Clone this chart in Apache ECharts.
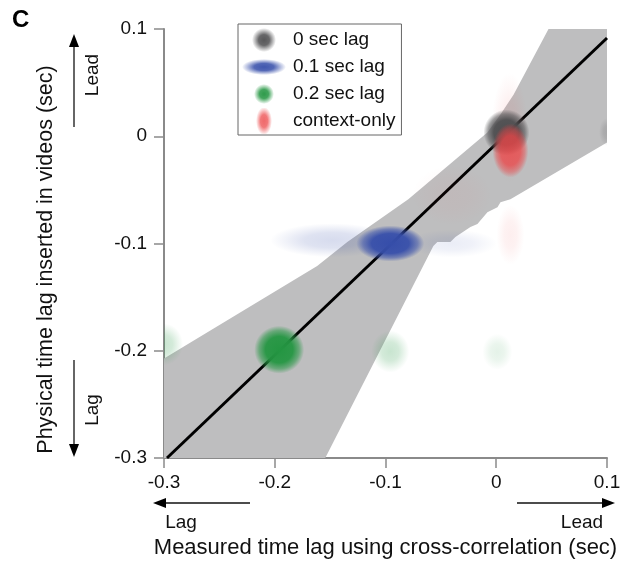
<!DOCTYPE html>
<html>
<head>
<meta charset="utf-8">
<script src="https://cdn.jsdelivr.net/npm/echarts@6/dist/echarts.min.js"></script>
<style>
html,body{margin:0;padding:0;background:#fff;}
#chart{width:626px;height:564px;}
</style>
</head>
<body>
<div id="chart"></div>
<script>
// ---------------- data ----------------
const xTickLabels = ['-0.3', '-0.2', '-0.1', '0', '0.1'];
const yTickLabels = ['-0.3', '-0.2', '-0.1', '0', '0.1'];
const legendNames = ['0 sec lag', '0.1 sec lag', '0.2 sec lag', 'context-only'];

// regression line end points
const lineX = [-0.2973, 0.1];
const lineY = [-0.3, 0.0916];

// confidence band outline (x, y vertices)
const bandX = [-0.3, -0.3, -0.1617, -0.1345, -0.0794, -0.0080, 0.0038, 0.0156, 0.0472, 0.1, 0.1,
  0.0128, 0.0038, 0.0011, -0.0080, -0.0170, -0.0233, -0.0369, -0.0414, -0.0532, -0.0568, -0.1544];
const bandY = [-0.3, -0.2072, -0.1209, -0.0986, -0.0587, 0.0035, 0.0202, 0.0387, 0.1, 0.1, -0.0058,
  -0.0587, -0.0615, -0.0661, -0.0708, -0.0819, -0.0847, -0.0940, -0.0986, -0.0986, -0.1023, -0.3];

// cluster centres (measured lag, inserted lag)
const lag0Core = [[0.0092, 0.0035]];
const lag0Faint = [[0.1, 0.004]];
const lag1Core = [[-0.0957, -0.100]];
const lag1FaintLeft = [[-0.148, -0.097]];
const lag1FaintRight = [[-0.040, -0.100]];
const lag2Core = [[-0.196, -0.199]];
const lag2Faint = [[-0.300, -0.194], [-0.0957, -0.2007]];
const lag2FaintFar = [[0.001, -0.201]];
const ctxCore = [[0.0128, -0.0133]];
const ctxFaintUp = [[0.012, 0.008]];
const ctxFaintLow = [[0.0128, -0.092]];
const ctxFaintBand = [[-0.040, -0.055]];

// ---------------- styles ----------------
const FONT = '"Liberation Sans", Arial, Helvetica, sans-serif';
const C_GRAY = [78, 78, 80], C_BLUE = [54, 78, 170], C_GREEN = [36, 150, 66], C_RED = [236, 68, 70];

function grad(rgb, a, hard) {
  const c = (al) => 'rgba(' + rgb[0] + ',' + rgb[1] + ',' + rgb[2] + ',' + al + ')';
  const stops = hard ? [
    {offset: 0, color: c(a)},
    {offset: 0.55, color: c(a * 0.95)},
    {offset: 0.8, color: c(a * 0.55)},
    {offset: 1, color: c(0)}
  ] : [
    {offset: 0, color: c(a)},
    {offset: 0.45, color: c(a * 0.8)},
    {offset: 0.75, color: c(a * 0.35)},
    {offset: 1, color: c(0)}
  ];
  return new echarts.graphic.RadialGradient(0.5, 0.5, 0.5, stops);
}

function blobSeries(name, data, rgb, alpha, rx, ry, z, hard) {
  return {
    type: 'custom', name: name, data: data, clip: true, z: z, silent: true,
    itemStyle: {color: 'rgb(' + rgb.join(',') + ')'},
    renderItem: function (params, api) {
      const p = api.coord([api.value(0), api.value(1)]);
      return {
        type: 'circle', x: p[0], y: p[1], scaleX: rx / 50, scaleY: ry / 50,
        shape: {cx: 0, cy: 0, r: 50},
        style: {fill: grad(rgb, alpha, hard)}
      };
    }
  };
}

function blobImg(w, h, rx, ry, rgb, a) {
  const cv = document.createElement('canvas');
  cv.width = w; cv.height = h;
  const ctx = cv.getContext('2d');
  ctx.translate(w / 2, h / 2);
  ctx.scale(rx, ry);
  const g = ctx.createRadialGradient(0, 0, 0, 0, 0, 1);
  const c = (al) => 'rgba(' + rgb[0] + ',' + rgb[1] + ',' + rgb[2] + ',' + al + ')';
  g.addColorStop(0, c(a)); g.addColorStop(0.45, c(a * 0.9));
  g.addColorStop(0.75, c(a * 0.4)); g.addColorStop(1, c(0));
  ctx.fillStyle = g;
  ctx.beginPath(); ctx.arc(0, 0, 1, 0, Math.PI * 2); ctx.fill();
  return 'image://' + cv.toDataURL();
}

const chart = echarts.init(document.getElementById('chart'), null, {renderer: 'canvas'});

const axisCommon = {
  type: 'value', min: -0.3, max: 0.1, interval: 0.1,
  axisLine: {show: true, onZero: false, lineStyle: {color: '#8a8a8a', width: 2}},
  axisTick: {show: true, inside: false, length: 10, lineStyle: {color: '#8a8a8a', width: 1.5}},
  splitLine: {show: false},
  nameTextStyle: {fontFamily: FONT, fontSize: 22, color: '#111'}
};

const bandData = bandX.map((x, i) => [x, bandY[i]]);

const option = {
  animation: false,
  backgroundColor: '#fff',
  title: {text: 'C', left: 7, top: 3, textStyle: {fontFamily: FONT, fontSize: 24, fontWeight: 'bold', color: '#000'}},
  grid: {left: 164, right: 19, top: 29, bottom: 104, containLabel: false},
  xAxis: Object.assign({}, axisCommon, {
    name: 'Measured time lag using cross-correlation (sec)', nameLocation: 'middle', nameGap: 79,
    axisLabel: {margin: 15, fontFamily: FONT, fontSize: 19, color: '#111',
      formatter: (v) => xTickLabels[Math.round((v + 0.3) / 0.1)]}
  }),
  yAxis: Object.assign({}, axisCommon, {
    name: 'Physical time lag inserted in videos (sec)', nameLocation: 'middle', nameGap: 107,
    nameTextStyle: {fontFamily: FONT, fontSize: 21.5, color: '#111', padding: [0, 32, 0, 0]},
    axisLabel: {margin: 17, fontFamily: FONT, fontSize: 19, color: '#111',
      formatter: (v) => yTickLabels[Math.round((v + 0.3) / 0.1)]}
  }),
  legend: {
    orient: 'vertical', left: 238, top: 24, padding: [3, 6, 1, 2], itemGap: 1,
    itemWidth: 48, itemHeight: 26, borderColor: '#666', borderWidth: 1, backgroundColor: '#fff',
    textStyle: {fontFamily: FONT, fontSize: 19, color: '#111'},
    selectedMode: false,
    data: [
      {name: legendNames[0], icon: blobImg(48, 26, 12, 12, C_GRAY, 0.95)},
      {name: legendNames[1], icon: blobImg(48, 26, 22, 8, C_BLUE, 0.95)},
      {name: legendNames[2], icon: blobImg(48, 26, 10, 10, C_GREEN, 0.95)},
      {name: legendNames[3], icon: blobImg(48, 26, 8, 14, C_RED, 0.8)}
    ]
  },
  graphic: [
    // y-side arrows
    {type: 'line', shape: {x1: 74, y1: 127, x2: 74, y2: 44}, style: {stroke: '#333', lineWidth: 1.5}},
    {type: 'polygon', shape: {points: [[74, 34], [69, 47], [79, 47]]}, style: {fill: '#000'}},
    {type: 'line', shape: {x1: 74, y1: 360, x2: 74, y2: 447}, style: {stroke: '#333', lineWidth: 1.5}},
    {type: 'polygon', shape: {points: [[74, 457], [69, 444], [79, 444]]}, style: {fill: '#000'}},
    {type: 'text', x: 93, y: 75, rotation: Math.PI / 2,
      style: {text: 'Lead', fontFamily: FONT, fontSize: 19, fill: '#111', align: 'center', verticalAlign: 'middle'}},
    {type: 'text', x: 93, y: 410, rotation: Math.PI / 2,
      style: {text: 'Lag', fontFamily: FONT, fontSize: 19, fill: '#111', align: 'center', verticalAlign: 'middle'}},
    // x-side arrows
    {type: 'line', shape: {x1: 250, y1: 503, x2: 163, y2: 503}, style: {stroke: '#111', lineWidth: 1.5}},
    {type: 'polygon', shape: {points: [[153, 503], [166, 498], [166, 508]]}, style: {fill: '#000'}},
    {type: 'line', shape: {x1: 517, y1: 503, x2: 605, y2: 503}, style: {stroke: '#111', lineWidth: 1.5}},
    {type: 'polygon', shape: {points: [[615, 503], [602, 498], [602, 508]]}, style: {fill: '#000'}},
    {type: 'text', x: 181, y: 523,
      style: {text: 'Lag', fontFamily: FONT, fontSize: 19, fill: '#111', align: 'center', verticalAlign: 'middle'}},
    {type: 'text', x: 582, y: 523,
      style: {text: 'Lead', fontFamily: FONT, fontSize: 19, fill: '#111', align: 'center', verticalAlign: 'middle'}}
  ],
  series: [
    {
      type: 'custom', name: 'band', data: [bandData[0]], clip: true, z: 1, silent: true,
      renderItem: function (params, api) {
        const pts = bandData.map((d) => api.coord(d));
        return {type: 'polygon', shape: {points: pts}, style: {fill: '#bebebf', stroke: null}};
      }
    },
    {
      type: 'line', name: 'fit', data: lineX.map((x, i) => [x, lineY[i]]), z: 2, silent: true,
      showSymbol: false, symbol: 'none', lineStyle: {color: '#000', width: 3}
    },
    // faint halos
    blobSeries(legendNames[1], lag1FaintLeft, C_BLUE, 0.2, 62, 17, 3),
    blobSeries(legendNames[1], lag1FaintRight, C_BLUE, 0.1, 45, 14, 3),
    blobSeries(legendNames[2], lag2Faint, C_GREEN, 0.25, 19, 21, 3),
    blobSeries(legendNames[2], lag2FaintFar, C_GREEN, 0.12, 15, 18, 3),
    blobSeries(legendNames[3], ctxFaintUp, C_RED, 0.1, 18, 55, 3),
    blobSeries(legendNames[3], ctxFaintLow, C_RED, 0.09, 14, 30, 3),
    blobSeries(legendNames[3], ctxFaintBand, C_RED, 0.04, 40, 30, 3),
    blobSeries(legendNames[0], lag0Faint, C_GRAY, 0.2, 8, 14, 3),
    // dense cores
    blobSeries(legendNames[1], lag1Core, C_BLUE, 1, 34, 18, 4, true),
    blobSeries(legendNames[2], lag2Core, C_GREEN, 1, 25, 24, 4, true),
    blobSeries(legendNames[0], lag0Core, C_GRAY, 1, 23, 23, 4, true),
    blobSeries(legendNames[3], ctxCore, C_RED, 0.8, 18, 27, 5, true)
  ]
};

chart.setOption(option);
</script>
</body>
</html>
